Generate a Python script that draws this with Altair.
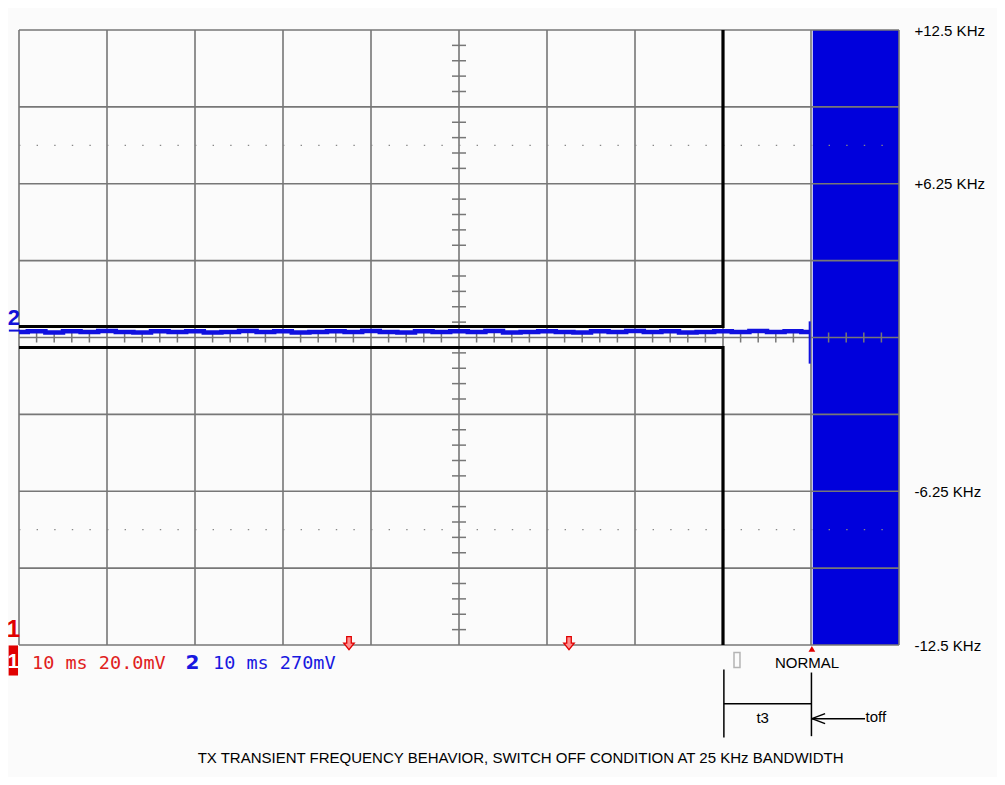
import altair as alt
import pandas as pd

# ---------------- data (screen divisions: x 0..10, y -4..4) ----------------
x_divs = [0, 1, 2, 3, 4, 5, 6, 7, 8, 9, 10]
y_divs = [-4, -3, -2, -1, 0, 1, 2, 3, 4]
dotted_rows = [2.5, -2.5]

freq_label_pos = [4, 2, -2, -4]
freq_label_txt = ["+12.5 KHz", "+6.25 KHz", "-6.25 KHz", "-12.5 KHz"]

# black trace: two rails that split at the switch-off instant
black_upper_x = [0, 8, 8]
black_upper_y = [0.143, 0.143, 4]
black_lower_x = [0, 8, 8]
black_lower_y = [-0.13, -0.13, -4]

# blue trace (channel 2)
blue_x = [0.0, 0.2, 0.4, 0.6, 0.8, 1.0, 1.2, 1.4, 1.6, 1.8,
          2.0, 2.2, 2.4, 2.6, 2.8, 3.0, 3.2, 3.4, 3.6, 3.8,
          4.0, 4.2, 4.4, 4.6, 4.8, 5.0, 5.2, 5.4, 5.6, 5.8,
          6.0, 6.2, 6.4, 6.6, 6.8, 7.0, 7.2, 7.4, 7.6, 7.8,
          8.0, 8.2, 8.4, 8.6, 8.8, 8.98]
blue_y = [0.07, 0.08, 0.065, 0.08, 0.07, 0.085, 0.07, 0.065, 0.08, 0.07,
          0.08, 0.065, 0.07, 0.085, 0.07, 0.08, 0.065, 0.07, 0.08, 0.07,
          0.085, 0.07, 0.065, 0.08, 0.07, 0.08, 0.07, 0.085, 0.065, 0.07,
          0.08, 0.07, 0.065, 0.08, 0.07, 0.085, 0.07, 0.08, 0.065, 0.07,
          0.08, 0.07, 0.085, 0.07, 0.08, 0.07]
blue_spike_x = [8.985]
blue_spike_y = [0.21]
blue_spike_y2 = [-0.34]

# blue block after switch-off
block_x = [9.02]
block_x2 = [10]

# trigger markers
trig_x = [3.75, 6.25]

caption = "TX TRANSIENT FREQUENCY BEHAVIOR, SWITCH OFF CONDITION AT 25 KHz BANDWIDTH"
ch1_status = "10 ms 20.0mV"
ch2_status = "10 ms 270mV"

# ---------------- helpers ----------------
xs = alt.Scale(domain=[0, 10], nice=False, zero=False)
ys = alt.Scale(domain=[-4, 4], nice=False, zero=False)

label_expr = " : ".join(
    f"datum.value == {v} ? '{t}'" for v, t in zip(freq_label_pos, freq_label_txt)
) + " : ''"
yaxis = alt.Axis(orient="right", values=freq_label_pos, labelExpr=label_expr,
                 ticks=False, domain=False, grid=False, title=None,
                 labelPadding=15, labelAlign="left", labelBaseline="middle",
                 labelFont="Liberation Sans", labelFontSize=15, labelColor="#000000",
                 labelFlush=False, labelOverlap=False, labelBound=False)


def X(f="x"):
    return alt.X(f"{f}:Q", scale=xs, axis=None)


def Y(f="y"):
    return alt.Y(f"{f}:Q", scale=ys, axis=yaxis)


GRID = "#777777"

# blue block
block = alt.Chart(pd.DataFrame({"x": block_x, "x2": block_x2, "y": [-4], "y2": [4]})).mark_rect(
    color="#0000dc").encode(x=X(), x2="x2:Q", y=Y(), y2="y2:Q")

vgrid = alt.Chart(pd.DataFrame({"x": x_divs, "y": -4, "y2": 4})).mark_rule(
    color=GRID, strokeWidth=1.6).encode(x=X(), y=Y(), y2="y2:Q")
hgrid = alt.Chart(pd.DataFrame({"y": y_divs, "x": 0, "x2": 10})).mark_rule(
    color=GRID, strokeWidth=1.6).encode(x=X(), x2="x2:Q", y=Y())

dots = alt.Chart(pd.DataFrame({"y": dotted_rows, "x": 0, "x2": 10})).mark_rule(
    color="#888888", strokeWidth=1.3, strokeDash=[1.4, 16.2]).encode(x=X(), x2="x2:Q", y=Y())

minor_x = [i / 5 for i in range(1, 50) if i % 5]
minor_y = [i / 5 - 4 for i in range(1, 40) if i % 5]
hticks = alt.Chart(pd.DataFrame({"x": minor_x, "y": 0})).mark_tick(
    orient="vertical", size=10, thickness=1.5, color=GRID, opacity=1).encode(x=X(), y=Y())
vticks = alt.Chart(pd.DataFrame({"y": minor_y, "x": 5})).mark_tick(
    orient="horizontal", size=14, thickness=1.5, color=GRID, opacity=1).encode(x=X(), y=Y())

blue_line = alt.Chart(pd.DataFrame({"x": blue_x, "y": blue_y})).mark_line(
    color="#1010e0", strokeWidth=4.5, interpolate="step").encode(x=X(), y=Y())
blue_spike = alt.Chart(pd.DataFrame({"x": blue_spike_x, "y": blue_spike_y, "y2": blue_spike_y2})).mark_rule(
    color="#1010e0", strokeWidth=2).encode(x=X(), y=Y(), y2="y2:Q")

black_df = pd.DataFrame({
    "x": black_upper_x + black_lower_x,
    "y": black_upper_y + black_lower_y,
    "s": ["u"] * 3 + ["l"] * 3,
    "o": [0, 1, 2] * 2,
})
black = alt.Chart(black_df).mark_line(color="#000000", strokeWidth=3.2).encode(
    x=X(), y=Y(), detail="s:N", order="o:Q")

# channel markers on the left
ch2_mark = alt.Chart(pd.DataFrame({"x": [-0.057], "y": [0.26], "t": ["2"]})).mark_text(
    font="Liberation Sans", fontSize=22, fontWeight="bold", color="#1010d8", baseline="middle").encode(
    x=X(), y=Y(), text="t:N")
ch2_under = alt.Chart(pd.DataFrame({"x": [-0.115], "x2": [0.0], "y": [0.09]})).mark_rule(
    color="#1010d8", strokeWidth=2).encode(x=X(), x2="x2:Q", y=Y())
ch1_mark = alt.Chart(pd.DataFrame({"x": [-0.062], "y": [-3.811], "t": ["1"]})).mark_text(
    font="Liberation Sans", fontSize=24, fontWeight="bold", color="#e00000", baseline="middle").encode(
    x=X(), y=Y(), text="t:N")
ch1_box = alt.Chart(pd.DataFrame({"x": [-0.118], "x2": [-0.011], "y": [-4.006], "y2": [-4.397]})).mark_rect(
    color="#e00000").encode(x=X(), x2="x2:Q", y=Y(), y2="y2:Q")
ch1_box_txt = alt.Chart(pd.DataFrame({"x": [-0.064], "y": [-4.22], "t": ["1"]})).mark_text(
    font="Liberation Sans", fontSize=21, fontWeight="bold", color="#ffffff", baseline="middle").encode(
    x=X(), y=Y(), text="t:N")

# status line
st1 = alt.Chart(pd.DataFrame({"x": [0.148], "y": [-4.23], "t": [ch1_status]})).mark_text(
    font="DejaVu Sans Mono", fontSize=18.5, color="#e02020", align="left", baseline="middle").encode(
    x=X(), y=Y(), text="t:N")
st2n = alt.Chart(pd.DataFrame({"x": [1.97], "y": [-4.24], "t": ["2"]})).mark_text(
    font="DejaVu Sans", fontSize=20, fontWeight="bold", color="#1818e0", baseline="middle").encode(
    x=X(), y=Y(), text="t:N")
st2 = alt.Chart(pd.DataFrame({"x": [2.205], "y": [-4.23], "t": [ch2_status]})).mark_text(
    font="DejaVu Sans Mono", fontSize=18.5, color="#1818e0", align="left", baseline="middle").encode(
    x=X(), y=Y(), text="t:N")

arrow_path = "M-0.35,-1 L0.35,-1 L0.35,0 L0.8,0 L0,1 L-0.8,0 L-0.35,0 Z"
trig = alt.Chart(pd.DataFrame({"x": trig_x, "y": -3.975})).mark_point(
    shape=arrow_path, size=170, filled=True, fill="#ff9090", stroke="#e00000", strokeWidth=1.3,
    opacity=1).encode(x=X(), y=Y())
tri = alt.Chart(pd.DataFrame({"x": [9.01], "y": [-4.05]})).mark_point(
    shape="triangle-up", size=45, filled=True, color="#e00000", opacity=1).encode(x=X(), y=Y())
gray_sq = alt.Chart(pd.DataFrame({"x": [8.125], "x2": [8.193], "y": [-4.098], "y2": [-4.293]})).mark_rect(
    fill="#fbfbfb", stroke="#b4b4b4", strokeWidth=1.5).encode(x=X(), x2="x2:Q", y=Y(), y2="y2:Q")
normal = alt.Chart(pd.DataFrame({"x": [8.955], "y": [-4.23], "t": ["NORMAL"]})).mark_text(
    font="Liberation Sans", fontSize=15, color="#000000", baseline="middle").encode(
    x=X(), y=Y(), text="t:N")

# t3 / toff annotation
ann_df = pd.DataFrame({
    "x":  [8.01, 9.005, 8.01, 9.01, 9.01, 9.01],
    "x2": [8.01, 9.005, 9.005, 9.614, 9.16, 9.16],
    "y":  [-4.319, -4.358, -4.764, -4.958, -4.958, -4.958],
    "y2": [-5.203, -5.186, -4.764, -4.958, -4.893, -5.023],
})
ann = alt.Chart(ann_df).mark_rule(color="#000000", strokeWidth=1.5).encode(
    x=X(), x2="x2:Q", y=Y(), y2="y2:Q")
t3 = alt.Chart(pd.DataFrame({"x": [8.451], "y": [-4.95], "t": ["t3"]})).mark_text(
    font="Liberation Sans", fontSize=15, color="#000000", baseline="middle").encode(
    x=X(), y=Y(), text="t:N")
toff = alt.Chart(pd.DataFrame({"x": [9.62], "y": [-4.94], "t": ["toff"]})).mark_text(
    font="Liberation Sans", fontSize=15, color="#000000", align="left", baseline="middle").encode(
    x=X(), y=Y(), text="t:N")
cap = alt.Chart(pd.DataFrame({"x": [5.70], "y": [-5.476], "t": [caption]})).mark_text(
    font="Liberation Sans", fontSize=15, color="#000000", baseline="middle").encode(
    x=X(), y=Y(), text="t:N")

chart = alt.layer(
    block, vgrid, hgrid, dots, hticks, vticks, blue_line, blue_spike, black,
    ch2_under, ch2_mark, ch1_mark, ch1_box, ch1_box_txt, st1, st2n, st2,
    trig, tri, gray_sq, normal, ann, t3, toff, cap,
).properties(
    width=880, height=615,
    padding={"left": 11, "top": 22, "right": 98, "bottom": 132},
    autosize=alt.AutoSizeParams(type="none"),
    background="#fbfbfb",
).configure_view(stroke=None)

chart.save("out.html", embed_options={"renderer": "svg", "actions": False})
